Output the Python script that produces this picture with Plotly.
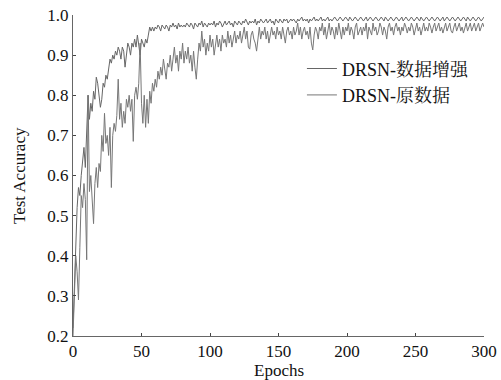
import plotly.graph_objects as go

epochs = list(range(0, 301))

acc_aug = [
    0.22, 0.33, 0.45, 0.52, 0.57, 0.55, 0.60, 0.64, 0.67, 0.62,
    0.73, 0.80, 0.74, 0.78, 0.76, 0.81, 0.79, 0.845, 0.83, 0.80,
    0.77, 0.79, 0.83, 0.82, 0.85, 0.84, 0.86, 0.89, 0.88, 0.90,
    0.89, 0.91, 0.90, 0.92, 0.91, 0.89, 0.92, 0.91, 0.87, 0.91,
    0.93, 0.92, 0.90, 0.93, 0.92, 0.94, 0.92, 0.95, 0.93, 0.90,
    0.94, 0.93, 0.92, 0.94, 0.93, 0.95, 0.97, 0.96, 0.97, 0.96,
    0.97, 0.965, 0.975, 0.97, 0.96, 0.975, 0.97, 0.965, 0.975, 0.97,
    0.96, 0.975, 0.97, 0.98, 0.97, 0.975, 0.965, 0.98, 0.97, 0.975,
    0.97, 0.975, 0.97, 0.98, 0.975, 0.97, 0.98, 0.975, 0.965, 0.98,
    0.975, 0.97, 0.98, 0.975, 0.985, 0.97, 0.98, 0.975, 0.97, 0.98,
    0.975, 0.98, 0.975, 0.985, 0.97, 0.98, 0.975, 0.985, 0.98, 0.97,
    0.98, 0.985, 0.975, 0.98, 0.985, 0.975, 0.98, 0.97, 0.985, 0.98,
    0.975, 0.985, 0.98, 0.975, 0.985, 0.98, 0.99, 0.98, 0.975, 0.985,
    0.98, 0.985, 0.98, 0.99, 0.975, 0.985, 0.98, 0.99, 0.985, 0.98,
    0.985, 0.99, 0.98, 0.985, 0.99, 0.98, 0.985, 0.975, 0.99, 0.985,
    0.98, 0.99, 0.985, 0.98, 0.99, 0.985, 0.99, 0.98, 0.985, 0.99,
    0.985, 0.99, 0.985, 0.98, 0.99, 0.985, 0.99, 0.995, 0.985, 0.99,
    0.985, 0.99, 0.98, 0.99, 0.985, 0.99, 0.995, 0.985, 0.99, 0.985,
    0.99, 0.995, 0.985, 0.99, 0.985, 0.99, 0.995, 0.985, 0.99, 0.985,
    0.99, 0.995, 0.99, 0.985, 0.99, 0.995, 0.99, 0.985, 0.99, 0.995,
    0.99, 0.985, 0.995, 0.99, 0.985, 0.99, 0.995, 0.99, 0.985, 0.99,
    0.995, 0.99, 0.985, 0.99, 0.995, 0.985, 0.99, 0.995, 0.99, 0.985,
    0.99, 0.995, 0.99, 0.985, 0.99, 0.995, 0.99, 0.985, 0.995, 0.99,
    0.985, 0.99, 0.995, 0.99, 0.985, 0.99, 0.995, 0.99, 0.985, 0.99,
    0.995, 0.985, 0.99, 0.995, 0.99, 0.985, 0.99, 0.995, 0.99, 0.985,
    0.99, 0.995, 0.99, 0.985, 0.995, 0.99, 0.985, 0.99, 0.995, 0.99,
    0.985, 0.99, 0.995, 0.99, 0.985, 0.99, 0.995, 0.99, 0.985, 0.99,
    0.995, 0.985, 0.99, 0.995, 0.99, 0.985, 0.99, 0.995, 0.99, 0.985,
    0.99, 0.995, 0.99, 0.985, 0.99, 0.995, 0.99, 0.985, 0.995, 0.99,
    0.985, 0.99, 0.995, 0.99, 0.985, 0.99, 0.995, 0.99, 0.985, 0.99,
    0.995,
]

acc_orig = [
    0.20, 0.30, 0.40, 0.36, 0.29, 0.42, 0.55, 0.52, 0.58, 0.54,
    0.39, 0.80, 0.56, 0.60, 0.55, 0.48, 0.58, 0.62, 0.57, 0.63,
    0.61, 0.70, 0.66, 0.755, 0.68, 0.70, 0.65, 0.72, 0.57, 0.70,
    0.73, 0.71, 0.75, 0.84, 0.74, 0.78, 0.72, 0.76, 0.73, 0.79,
    0.77, 0.80, 0.76, 0.79, 0.685, 0.80, 0.82, 0.79, 0.83, 0.93,
    0.78, 0.73, 0.80, 0.72, 0.79, 0.73, 0.81, 0.78, 0.83, 0.81,
    0.84, 0.82, 0.86, 0.84, 0.87, 0.85, 0.89, 0.86, 0.84, 0.88,
    0.87, 0.90, 0.86, 0.89, 0.92, 0.88, 0.90, 0.86, 0.91, 0.89,
    0.93, 0.88, 0.91, 0.89, 0.92, 0.88, 0.90, 0.86, 0.91, 0.87,
    0.84, 0.89, 0.93, 0.91, 0.96, 0.92, 0.94, 0.90, 0.93, 0.91,
    0.95, 0.92, 0.94, 0.90, 0.93, 0.95, 0.92, 0.94, 0.91, 0.95,
    0.93, 0.94, 0.92, 0.96, 0.93, 0.95, 0.92, 0.94, 0.96, 0.93,
    0.95, 0.94, 0.96, 0.93, 0.95, 0.97, 0.94, 0.96, 0.92, 0.915,
    0.95, 0.96, 0.94, 0.93, 0.91, 0.95, 0.97, 0.94, 0.96, 0.95,
    0.97, 0.94, 0.96, 0.93, 0.95, 0.97, 0.95, 0.96, 0.94, 0.97,
    0.95, 0.96, 0.94, 0.97, 0.95, 0.93, 0.96, 0.97, 0.95, 0.96,
    0.94, 0.97, 0.95, 0.96, 0.98, 0.95, 0.97, 0.94, 0.96, 0.97,
    0.95, 0.96, 0.94, 0.97, 0.93, 0.913, 0.95, 0.97, 0.96, 0.94,
    0.97, 0.96, 0.98, 0.95, 0.97, 0.94, 0.96, 0.98, 0.95, 0.97,
    0.96, 0.94, 0.97, 0.95, 0.98, 0.96, 0.94, 0.97, 0.95, 0.97,
    0.96, 0.98, 0.95, 0.97, 0.96, 0.94, 0.97, 0.98, 0.95, 0.96,
    0.97, 0.95, 0.97, 0.96, 0.98, 0.94, 0.97, 0.96, 0.95, 0.98,
    0.96, 0.97, 0.95, 0.96, 0.98, 0.97, 0.95, 0.97, 0.96, 0.94,
    0.97, 0.98, 0.96, 0.97, 0.95, 0.97, 0.98, 0.96, 0.97, 0.95,
    0.97, 0.96, 0.98, 0.97, 0.955, 0.97, 0.96, 0.98, 0.97, 0.95,
    0.97, 0.98, 0.96, 0.97, 0.95, 0.97, 0.98, 0.96, 0.97, 0.96,
    0.98, 0.97, 0.955, 0.97, 0.98, 0.96, 0.97, 0.98, 0.96, 0.97,
    0.955, 0.97, 0.98, 0.96, 0.97, 0.98, 0.96, 0.955, 0.97, 0.98,
    0.96, 0.97, 0.98, 0.96, 0.97, 0.955, 0.97, 0.98, 0.96, 0.97,
    0.98, 0.96, 0.97, 0.98, 0.96, 0.97, 0.98, 0.96, 0.97, 0.98,
    0.97,
]

x_ticks = [0, 50, 100, 150, 200, 250, 300]
y_ticks = [0.2, 0.3, 0.4, 0.5, 0.6, 0.7, 0.8, 0.9, 1.0]
y_tick_text = ["0.2", "0.3", "0.4", "0.5", "0.6", "0.7", "0.8", "0.9", "1.0"]

serif = "Liberation Serif, Noto Serif CJK SC, Noto Sans CJK SC, serif"

fig = go.Figure()
fig.add_trace(go.Scatter(
    x=epochs, y=acc_aug, mode="lines", name="DRSN-数据增强",
    line=dict(color="#666666", width=1),
))
fig.add_trace(go.Scatter(
    x=epochs, y=acc_orig, mode="lines", name="DRSN-原数据",
    line=dict(color="#777777", width=1),
))

fig.update_layout(
    width=501, height=380,
    margin=dict(l=73, r=17, t=15, b=44, autoexpand=False),
    paper_bgcolor="white", plot_bgcolor="white",
    font=dict(family=serif, size=17, color="#111111"),
    showlegend=True,
    legend=dict(
        x=0.557, y=0.89, xanchor="left", yanchor="top",
        bgcolor="rgba(0,0,0,0)", font=dict(size=18, family=serif),
        tracegroupgap=0, itemwidth=30,
    ),
    xaxis=dict(
        range=[0, 300], tickvals=x_ticks, ticks="inside", ticklen=3,
        showline=True, linecolor="#666666", linewidth=1, mirror=False,
        showgrid=False, zeroline=False, automargin=False,
        tickfont=dict(size=17),
    ),
    yaxis=dict(
        range=[0.2, 1.0], tickvals=y_ticks, ticktext=y_tick_text,
        ticks="inside", ticklen=3,
        showline=True, linecolor="#666666", linewidth=1, mirror=False,
        showgrid=False, zeroline=False, automargin=False,
        tickfont=dict(size=17),
    ),
    annotations=[
        dict(text="Epochs", xref="paper", yref="paper", x=0.5, y=-0.072,
             xanchor="center", yanchor="top", showarrow=False,
             font=dict(size=17)),
        dict(text="Test Accuracy", xref="paper", yref="paper", x=-0.13, y=0.5,
             xanchor="center", yanchor="middle", showarrow=False, textangle=-90,
             font=dict(size=17)),
    ],
)

fig.write_html(
    "out.html",
    config={"displayModeBar": False},
    post_script="document.body.style.margin='0';document.body.style.overflow='hidden';",
)
